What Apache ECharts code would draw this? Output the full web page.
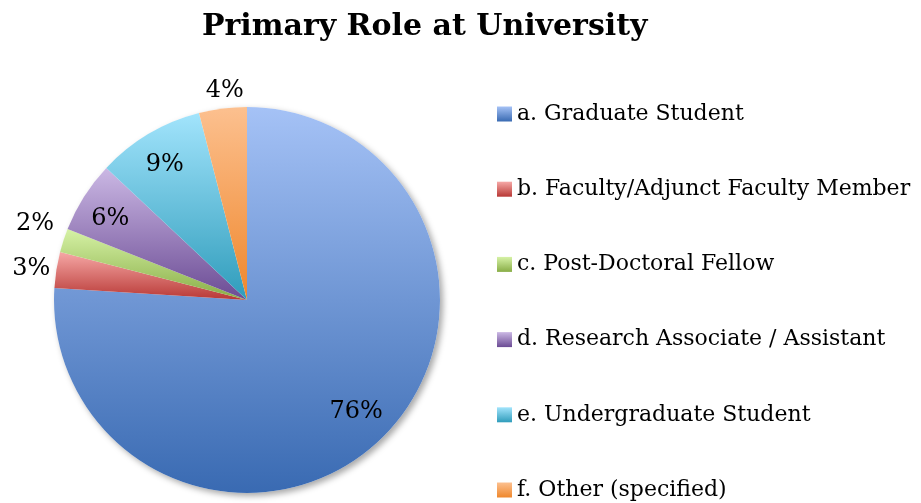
<!DOCTYPE html>
<html>
<head>
<meta charset="utf-8">
<script src="https://cdn.jsdelivr.net/npm/echarts@6/dist/echarts.min.js"></script>
<style>
  html, body { margin: 0; padding: 0; background: #fff; }
  #main { width: 921px; height: 503px; }
</style>
</head>
<body>
<div id="main"></div>
<script>
// data
var roles = ['a. Graduate Student', 'b. Faculty/Adjunct Faculty Member', 'c. Post-Doctoral Fellow',
             'd. Research Associate / Assistant', 'e. Undergraduate Student', 'f. Other (specified)'];
var shares = [76, 3, 2, 6, 9, 4];
// which labels sit outside the pie
var outsideLabel = [false, true, true, false, false, true];

// light (top) -> dark (bottom) per slice
var topColors = ['#a5c2f6', '#f6a8a6', '#d6f2a6', '#cbb8e4', '#a2e4fc', '#fcc08f'];
var bottomColors = ['#396ab2', '#b83835', '#88ad46', '#6b4b94', '#2f9cbb', '#ef872c'];
// small nudges so labels sit where the original put them
var labelNudge = [[0, -5], [-2, 3], [-6, -9], [-2, 4], [-1, 2], [5, 6]];

var FONT = 'DejaVu Serif';
var chart = echarts.init(document.getElementById('main'));

function grad(i){
    return new echarts.graphic.LinearGradient(0, 0, 0, 1, [
        {offset: 0, color: topColors[i]},
        {offset: 1, color: bottomColors[i]}
    ]);
}

var pieData = [], innerLabels = [], outerLabels = [];
for(var i=0; i<roles.length; i++){
    pieData.push({name: roles[i], value: shares[i], itemStyle: {color: grad(i)}});
    innerLabels.push({name: roles[i], value: shares[i],
        label: {show: !outsideLabel[i], offset: labelNudge[i]}});
    outerLabels.push({name: roles[i], value: shares[i],
        label: {show: outsideLabel[i], offset: labelNudge[i]}});
}

var CENTER = [247, 300];
var R = 193;
var labelStyle = {
    position: 'inside',
    formatter: '{c}%',
    fontFamily: FONT,
    fontSize: 24,
    color: '#000'
};

var option = {
    animation: false,
    title: {
        text: 'Primary Role at University',
        left: 197,
        top: 7,
        textStyle: {fontFamily: FONT, fontWeight: 'bold', fontSize: 30, color: '#000'}
    },
    legend: {
        orient: 'vertical',
        left: 497,
        top: 103,
        height: 460,
        padding: 0,
        icon: 'rect',
        itemWidth: 15,
        itemHeight: 15,
        itemGap: 53.2,
        selectedMode: false,
        data: roles,
        textStyle: {fontFamily: FONT, fontSize: 22, color: '#000'}
    },
    series: [
        {   // shadow under the whole pie
            type: 'pie',
            center: CENTER,
            radius: R,
            silent: true,
            z: 1,
            label: {show: false},
            labelLine: {show: false},
            itemStyle: {color: '#fff', shadowBlur: 6, shadowOffsetX: 3, shadowOffsetY: 3,
                        shadowColor: 'rgba(0,0,0,0.35)'},
            data: [{name: '', value: 1}]
        },
        {
            type: 'pie',
            center: CENTER,
            radius: R,
            startAngle: 90,
            clockwise: true,
            silent: true,
            z: 2,
            label: {show: false},
            labelLine: {show: false},
            itemStyle: {borderWidth: 0},
            data: pieData
        },
        {   // labels inside the slices
            type: 'pie',
            center: CENTER,
            radius: [120, R],
            startAngle: 90,
            silent: true,
            z: 3,
            itemStyle: {color: 'rgba(0,0,0,0)'},
            label: labelStyle,
            labelLine: {show: false},
            data: innerLabels
        },
        {   // labels outside the pie
            type: 'pie',
            center: CENTER,
            radius: [R, 234],
            startAngle: 90,
            silent: true,
            z: 3,
            itemStyle: {color: 'rgba(0,0,0,0)'},
            label: labelStyle,
            labelLine: {show: false},
            data: outerLabels
        }
    ]
};

chart.setOption(option);
</script>
</body>
</html>
